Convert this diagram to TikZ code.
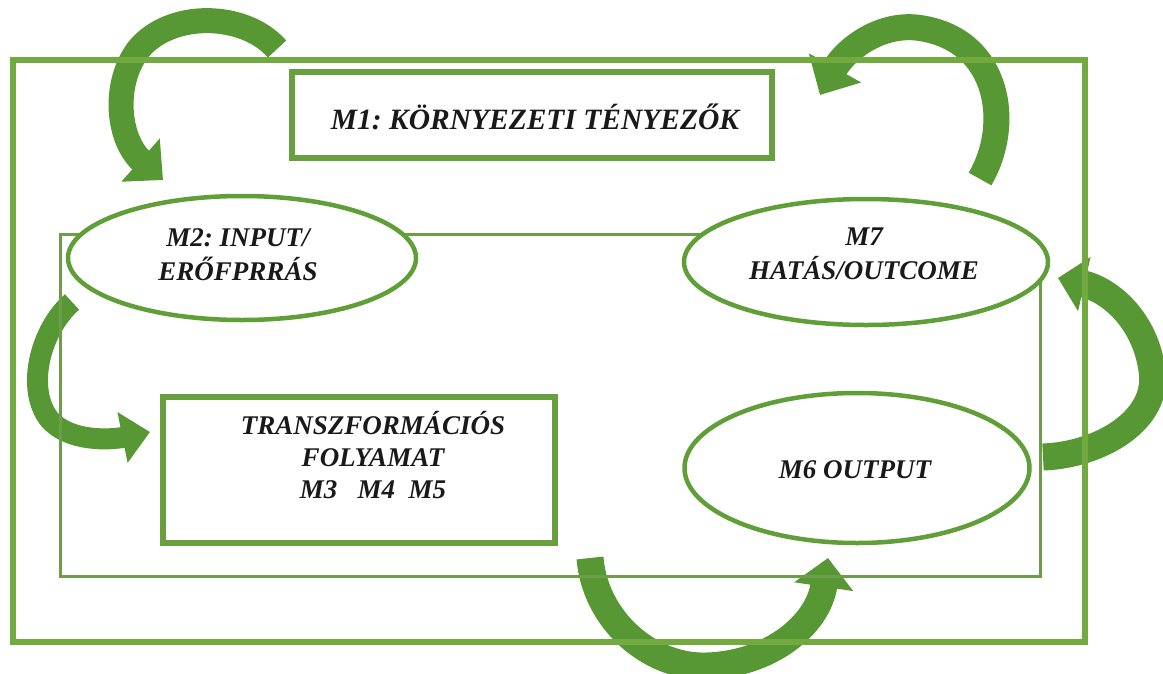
\documentclass[tikz,border=0pt]{standalone}
\usepackage{fontspec}
\setmainfont{Liberation Serif}
\usetikzlibrary{shapes.geometric,arrows.meta}
\frenchspacing

\definecolor{framegreen}{RGB}{114,170,64}
\definecolor{boxgreen}{RGB}{104,160,64}
\definecolor{ringgreen}{RGB}{96,158,56}
\definecolor{loopgreen}{RGB}{108,158,72}
\definecolor{arrowgreen}{RGB}{88,152,52}
\definecolor{inkblack}{RGB}{25,25,25}

\pgfdeclarelayer{under}
\pgfsetlayers{under,main}

\tikzset{
  labeltext/.style={font=\fontsize{27}{32}\selectfont\bfseries\itshape, text=inkblack, align=center, inner sep=0pt},
  widelines/.style={font=\fontsize{27}{34}\selectfont\bfseries\itshape},
  stage/.style={ellipse, draw=ringgreen, line width=4.5pt, fill=white, inner sep=0pt},
  panel/.style={rectangle, draw=boxgreen, line width=5.5pt, fill=white, inner sep=0pt},
  flow/.style={draw=arrowgreen, line width=25pt},
  loopline/.style={draw=loopgreen, line width=3pt},
  outerframe/.style={draw=framegreen, line width=6pt},
}

\begin{document}
\begin{tikzpicture}[x=1pt,y=-1pt]
\useasboundingbox (0,0) rectangle (1163,673);

% boxes and ellipses
\node[panel, minimum width=480pt, minimum height=86pt] (m1) at (532,115) {};
\node[labeltext, font=\fontsize{29.5}{34}\selectfont\bfseries\itshape] (m1t) at (535,117) {M1: KÖRNYEZETI TÉNYEZŐK};

\node[stage, minimum width=348pt, minimum height=124pt] (m2) at (242,258) {};
\node[labeltext, widelines] (m2t) at (238,254.5) {M2: INPUT/\\ERŐFPRRÁS};

\node[stage, minimum width=364pt, minimum height=126pt] (m7) at (866,262) {};
\node[labeltext, widelines] (m7t) at (864,254) {M7\\HATÁS/OUTCOME};

\node[panel, minimum width=392pt, minimum height=146pt] (tr) at (359,470) {};
\node[labeltext] (trt) at (373,455) {TRANSZFORMÁCIÓS\\FOLYAMAT\\M3\ \ \ M4\ \ M5};

\node[stage, minimum width=345pt, minimum height=150pt] (m6) at (857,468) {};
\node[labeltext] (m6t) at (855,470) {M6 OUTPUT};

% arrow end points
\coordinate (a1s) at (277,49);   \coordinate (a1e) at (163,180);
\coordinate (a2s) at (980,179);  \coordinate (a2e) at (820,95);
\coordinate (a3s) at (72,302);   \coordinate (a3e) at (150,432);
\coordinate (a4s) at (1043,457); \coordinate (a4e) at (1058,278);
\coordinate (a5s) at (590,558);  \coordinate (a5e) at (828,558);

% loop corners
\coordinate (lt) at (60,234);
\coordinate (lb) at (60,576);
\coordinate (rb) at (1040,576);

\begin{pgfonlayer}{under}
  \fill[white] (0,0) rectangle (1163,673);

  % curved block arrows
  \draw[flow, -{Triangle[length=30pt,width=56pt]}]
    (a1s) .. controls (245,12) and (170,10) .. (138,50)
          .. controls (112,85) and (118,140) .. (a1e);
  \draw[flow, line width=26pt, -{Triangle[length=31pt,width=58pt]}]
    (a2s) .. controls (1012,125) and (1000,40) .. (920,28)
          .. controls (880,22) and (845,50) .. (a2e);
  \draw[flow, line width=21pt, -{Triangle[length=28pt,width=50pt]}]
    (a3s) .. controls (40,330) and (25,390) .. (50,420)
          .. controls (70,442) and (110,440) .. (a3e);
  \draw[flow, line width=27pt, -{Triangle[length=27pt,width=54pt]}]
    (a4s) .. controls (1100,455) and (1160,420) .. (1152,370)
          .. controls (1145,320) and (1110,290) .. (a4e);
  \draw[flow, line width=27pt, -{Triangle[length=29pt,width=58pt]}]
    (a5s) .. controls (595,620) and (650,668) .. (707,666)
          .. controls (770,664) and (818,625) .. (a5e);

  % inner loop linking the stages
  \draw[loopline] (m7.center -| rb) -- (rb) -- (lb) -- (lt) -- (lt -| m7.center);

  % outer frame
  \draw[outerframe] (13,60) rectangle (1085,642);
\end{pgfonlayer}
\end{tikzpicture}
\end{document}
